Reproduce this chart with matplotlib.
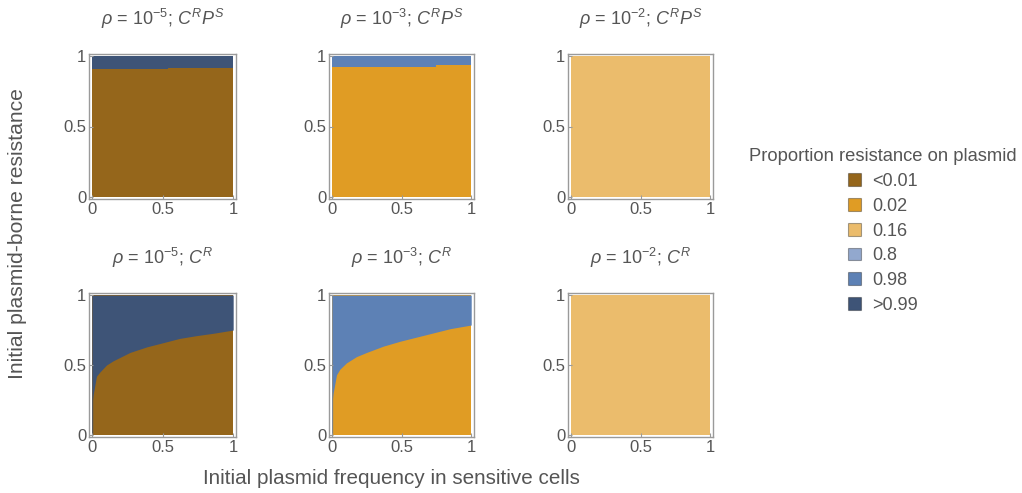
import matplotlib
matplotlib.use('Agg')
import matplotlib.pyplot as plt
from matplotlib.patches import Patch

plt.rcParams['font.family'] = ['Liberation Sans', 'DejaVu Sans']
plt.rcParams['mathtext.fontset'] = 'custom'
plt.rcParams['mathtext.rm'] = 'Liberation Sans'
plt.rcParams['mathtext.it'] = 'Liberation Sans:italic'

# ---- data ----
legend_labels = ['<0.01', '0.02', '0.16', '0.8', '0.98', '>0.99']
legend_colors = ['#95661B', '#E09C24', '#EBBC6C', '#92A8CE', '#5D81B5', '#3E5477']

titles = [r'$\rho$ = 10$^{-5}$; $C^{R}P^{S}$',
          r'$\rho$ = 10$^{-3}$; $C^{R}P^{S}$',
          r'$\rho$ = 10$^{-2}$; $C^{R}P^{S}$',
          r'$\rho$ = 10$^{-5}$; $C^{R}$',
          r'$\rho$ = 10$^{-3}$; $C^{R}$',
          r'$\rho$ = 10$^{-2}$; $C^{R}$']

tick_vals = [0, 0.5, 1]
tick_labels = ['0', '0.5', '1']

# boundaries (x = initial plasmid frequency, y = plasmid-borne resistance)
tl_x = [0.0, 0.54, 1.0]
tl_y = [0.908, 0.915, 0.915]
tm_x = [0.0, 0.75, 1.0]
tm_y = [0.924, 0.936, 0.936]
tr_x = [0.0, 1.0]
tr_y = [1.0, 1.0]
bl_x = [0.0, 0.006, 0.006, 0.01, 0.033, 0.057, 0.104, 0.151, 0.27, 0.39, 0.506, 0.62, 0.74, 0.86, 1.0]
bl_y = [0.0, 0.0, 0.25, 0.29, 0.42, 0.45, 0.50, 0.53, 0.59, 0.63, 0.66, 0.69, 0.71, 0.727, 0.75]
bm_x = [0.0, 0.006, 0.006, 0.01, 0.034, 0.058, 0.105, 0.177, 0.25, 0.37, 0.49, 0.61, 0.73, 0.85, 1.0]
bm_y = [0.0, 0.0, 0.26, 0.30, 0.43, 0.47, 0.515, 0.56, 0.59, 0.635, 0.67, 0.70, 0.73, 0.76, 0.786]
br_x = [0.0, 0.005, 0.005, 1.0]
br_y = [0.0, 0.0, 1.0, 1.0]

# (lower category, upper category, boundary x, boundary y, stepped)
panels = [(0, 5, tl_x, tl_y, True), (1, 4, tm_x, tm_y, True), (2, 2, tr_x, tr_y, False),
          (0, 5, bl_x, bl_y, False), (1, 4, bm_x, bm_y, False), (2, 3, br_x, br_y, False)]

# ---- layout ----
W, H = 1022, 493
fig = plt.figure(figsize=(W / 100, H / 100), dpi=100)
col_lr = [(89, 236), (329, 474), (568, 713)]
row_tb = [(54, 199), (293, 437)]

text_col = '#555555'
frame_col = '#9a9a9a'

for i, (lo, hi, bx, by, stepped) in enumerate(panels):
    r, c = divmod(i, 3)
    l, rr = col_lr[c]
    t, b = row_tb[r]
    ax = fig.add_axes([l / W, (H - b) / H, (rr - l) / W, (b - t) / H])
    ax.fill_between([0, 1], 0, 1, color=legend_colors[lo], lw=0)
    ax.fill_between(bx, by, 1, color=legend_colors[hi], lw=0,
                    step='post' if stepped else None)
    ax.set_xlim(-0.02, 1.02)
    ax.set_ylim(-0.015, 1.015)
    ax.set_xticks(tick_vals, tick_labels)
    ax.set_yticks(tick_vals, tick_labels)
    ax.tick_params(direction='in', length=3, width=0.8, color=frame_col,
                   labelcolor=text_col, labelsize=12, pad=2)
    for s in ax.spines.values():
        s.set_color(frame_col)
        s.set_linewidth(1.0)
    ax.set_title(titles[i], fontsize=13, color=text_col, pad=21)

fig.text(391 / W, 1 - 479 / H, 'Initial plasmid frequency in sensitive cells',
         ha='center', va='center', fontsize=14.9, color=text_col)
fig.text(18 / W, 1 - 234 / H, 'Initial plasmid-borne resistance',
         ha='center', va='center', rotation=90, fontsize=15.2, color=text_col)

handles = [Patch(facecolor=c, edgecolor='#00000055', linewidth=0.8) for c in legend_colors]
leg = fig.legend(handles, legend_labels, title='Proportion resistance on plasmid',
                 loc='center', bbox_to_anchor=(883 / W, 1 - 231 / H), frameon=False,
                 fontsize=13, title_fontsize=13.2, handlelength=0.7, handleheight=0.7,
                 handletextpad=0.6, labelspacing=0.43)
leg.get_title().set_color(text_col)
for txt in leg.get_texts():
    txt.set_color(text_col)

fig.savefig('out.png', dpi=100)
